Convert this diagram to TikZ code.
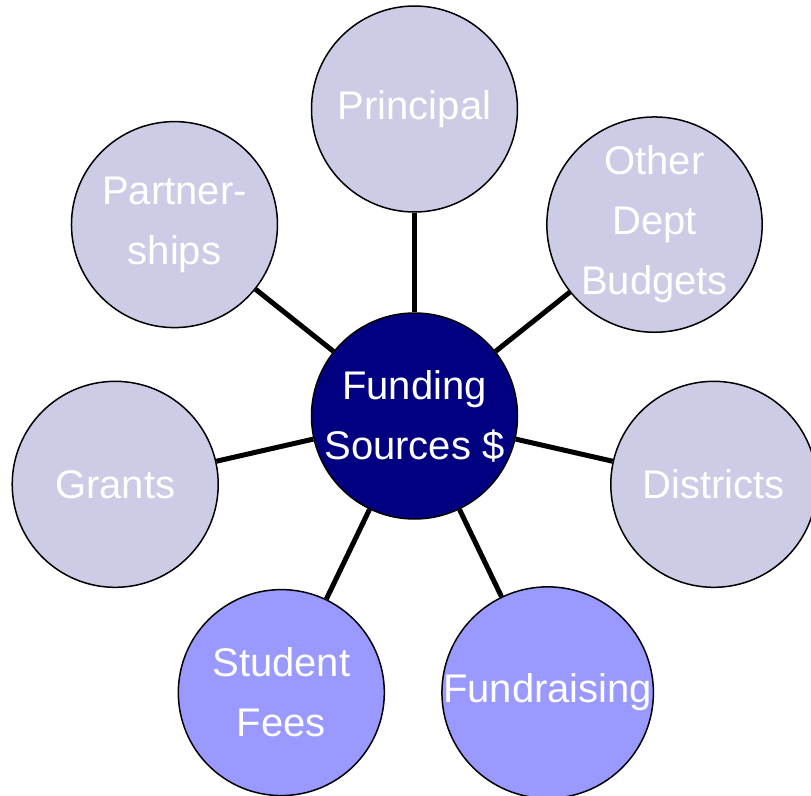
\documentclass[tikz,border=0pt]{standalone}
\usepackage{fontspec}
\setmainfont{Liberation Sans}
\usetikzlibrary{positioning}
\definecolor{hubblue}{HTML}{000080}
\definecolor{paleblue}{HTML}{CCCCE6}
\definecolor{midblue}{HTML}{9999FF}
\tikzset{
	src/.style={circle, draw, line width=1.5pt, minimum size=206pt, inner sep=0pt,
		text=white, align=center, font=\fontsize{40}{60}\selectfont},
	link/.style={line width=5pt}
}

\begin{document}
\begin{tikzpicture}
			\useasboundingbox (-414.5pt,-379pt) rectangle (396.5pt,416pt);
			\node[src, fill=hubblue] (F) at (0,0) {Funding\\Sources \$};
			\node[src, fill=paleblue] (P) at (90:307pt) {Principal};
			\node[src, fill=paleblue] (O) at (38.57:307pt) {Other\\Dept\\Budgets};
			\node[src, fill=paleblue] (D) at (-12.86:307pt) {Districts};
			\node[src, fill=midblue] (R) at (-64.29:307pt) {Fundraising};
			\node[src, fill=midblue] (S) at (-115.71:307pt) {Student\\Fees};
			\node[src, fill=paleblue] (G) at (192.86:307pt) {Grants};
			\node[src, fill=paleblue] (H) at (141.43:307pt) {Partner-\\ships};
			\draw[link] (F) -- (P);
			\draw[link] (F) -- (O);
			\draw[link] (F) -- (D);
			\draw[link] (F) -- (R);
			\draw[link] (F) -- (S);
			\draw[link] (F) -- (G);
			\draw[link] (F) -- (H);
		\end{tikzpicture}
\end{document}
